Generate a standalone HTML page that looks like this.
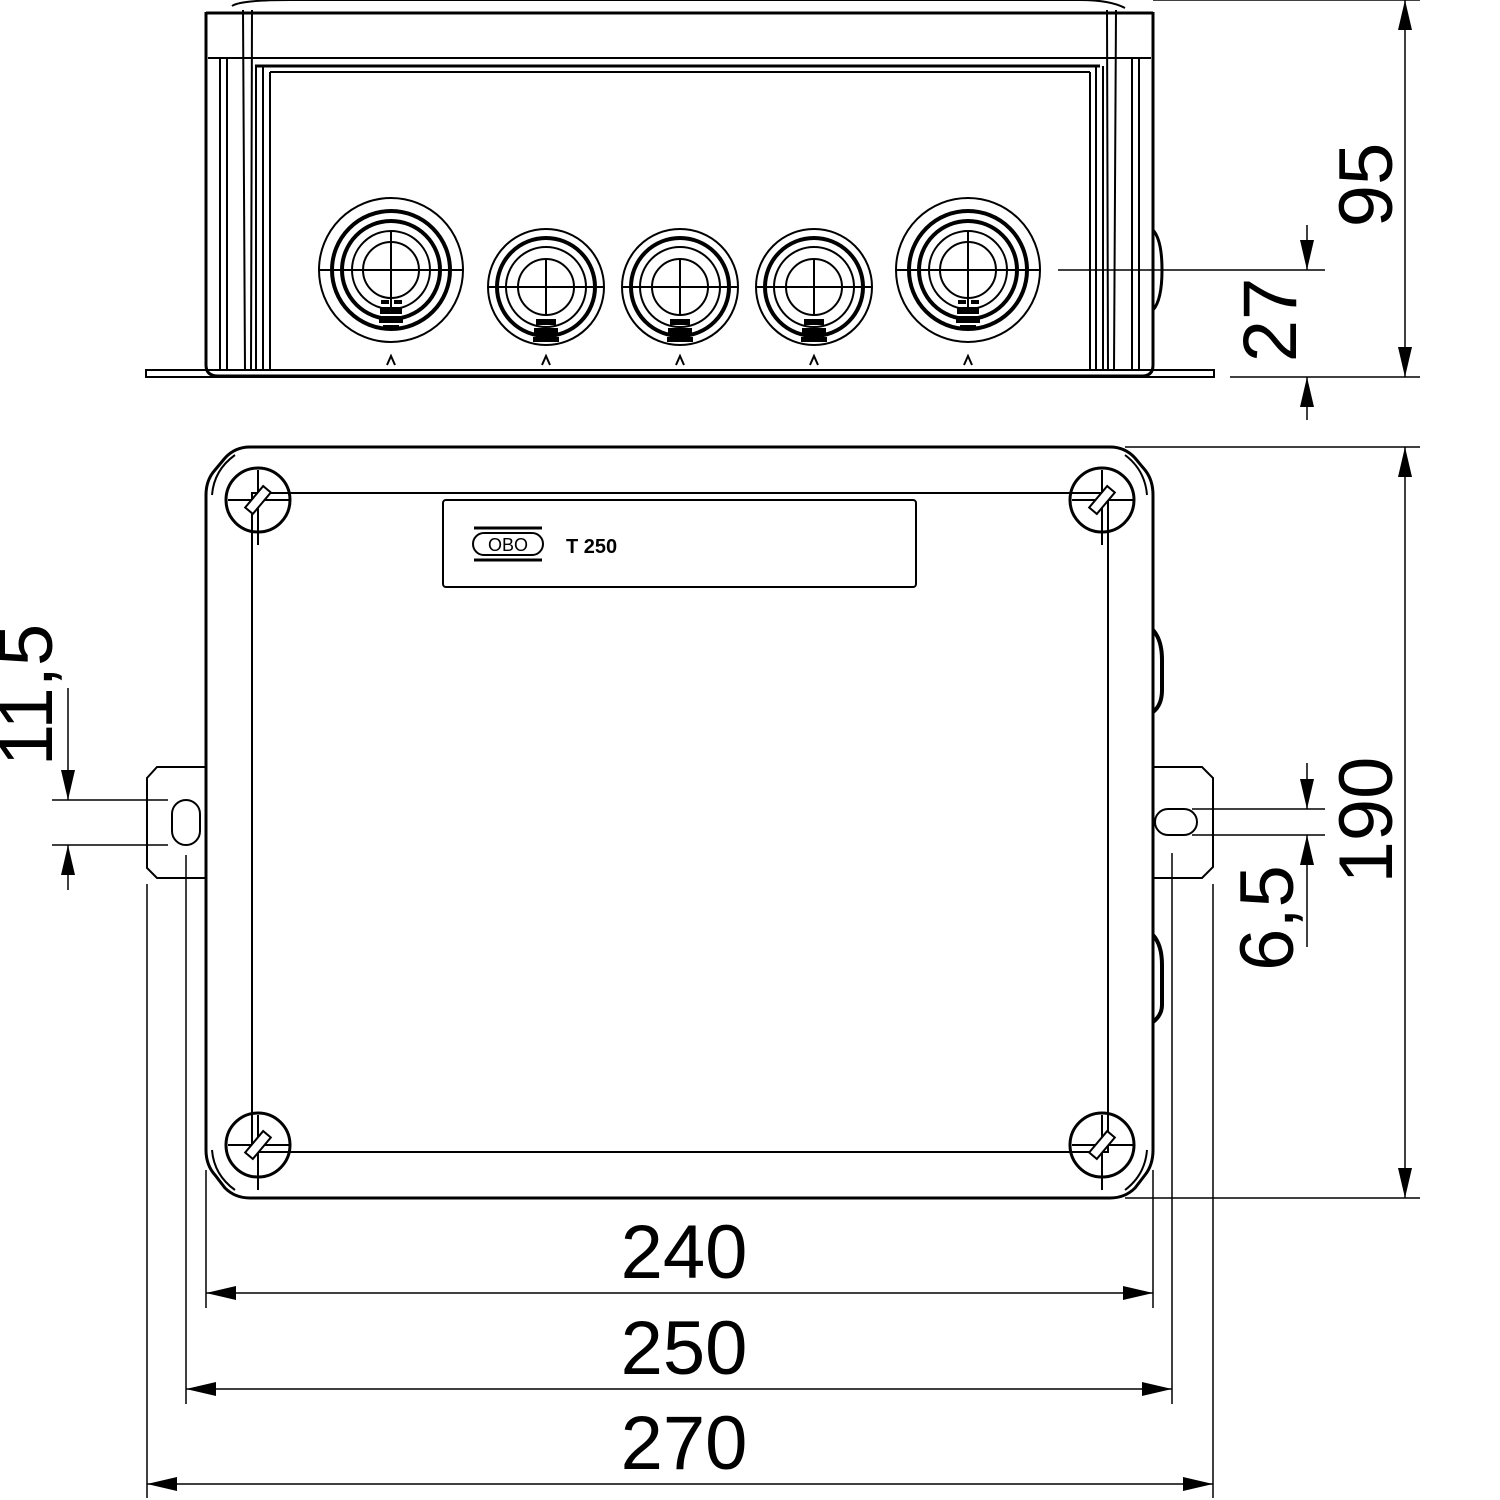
<!DOCTYPE html>
<html><head><meta charset="utf-8"><style>body{margin:0;background:#fff}svg{display:block}</style></head>
<body>
<svg width="1500" height="1500" viewBox="0 0 1500 1500" xmlns="http://www.w3.org/2000/svg" font-family="Liberation Sans, sans-serif">
<defs>
<marker id="a" viewBox="0 0 30 14" refX="30" refY="7" markerWidth="30" markerHeight="14" markerUnits="userSpaceOnUse" orient="auto-start-reverse"><path d="M0,0 L30,7 L0,14z" fill="#000"/></marker>
</defs>
<g fill="none" stroke="#000" stroke-width="2">
<!-- FRONT VIEW -->
<path d="M206,12 L206,365 Q206,376 218,376 L1142,376 Q1153,376 1153,365 L1153,12" stroke-width="3"/>
<line x1="206" y1="13" x2="1153" y2="13" stroke-width="3"/>
<line x1="208" y1="58" x2="1151" y2="58" stroke-width="2"/>
<path d="M232,6 Q240,0 290,0 L1080,0 Q1110,0 1125,8"/>
<line x1="255" y1="66" x2="1100" y2="66" stroke-width="3"/>
<line x1="270" y1="72" x2="1090" y2="72"/>
<line x1="220" y1="58" x2="220" y2="370"/>
<line x1="227" y1="58" x2="227" y2="370"/>
<line x1="243" y1="10" x2="245" y2="370"/>
<line x1="252" y1="10" x2="251" y2="370"/>
<line x1="256" y1="66" x2="256" y2="370"/>
<line x1="263" y1="66" x2="263" y2="370"/>
<line x1="270" y1="72" x2="270" y2="370"/>
<line x1="1139" y1="58" x2="1139" y2="370"/>
<line x1="1132" y1="58" x2="1132" y2="370"/>
<line x1="1116" y1="10" x2="1114" y2="370"/>
<line x1="1107" y1="10" x2="1108" y2="370"/>
<line x1="1103" y1="66" x2="1103" y2="370"/>
<line x1="1096" y1="66" x2="1096" y2="370"/>
<line x1="1090" y1="72" x2="1090" y2="370"/>
<rect x="146" y="370" width="1068" height="7"/>
<path d="M1153,230 Q1162,240 1162,270 Q1162,300 1153,310" stroke-width="3"/>
<!-- glands big -->
<g id="gb">
<circle cx="391" cy="270" r="72"/>
<circle cx="391" cy="270" r="59" stroke-width="4"/>
<circle cx="391" cy="270" r="49" stroke-width="4"/>
<circle cx="391" cy="270" r="39"/>
<circle cx="391" cy="270" r="28"/>
<line x1="319" y1="270" x2="463" y2="270"/>
<line x1="391" y1="232" x2="391" y2="308"/>
<g stroke="none" fill="#000"><rect x="381" y="300" width="8" height="4"/><rect x="394" y="300" width="8" height="4"/><rect x="380" y="307" width="22" height="7"/><rect x="379" y="316" width="24" height="7"/><rect x="383" y="325" width="16" height="5"/></g>
</g>
<use href="#gb" x="577"/>
<g id="gs">
<circle cx="546" cy="287" r="58"/>
<circle cx="546" cy="287" r="49" stroke-width="4"/>
<circle cx="546" cy="287" r="40"/>
<circle cx="546" cy="287" r="28"/>
<line x1="488" y1="287" x2="604" y2="287"/>
<line x1="546" y1="259" x2="546" y2="315"/>
<g stroke="none" fill="#000"><rect x="536" y="319" width="20" height="6"/><rect x="534" y="328" width="24" height="7"/><rect x="533" y="337" width="26" height="5"/></g>
<path d="M542,365 L546,356 L550,365"/>
</g>
<use href="#gs" x="134"/>
<use href="#gs" x="268"/>
<path d="M387,365 L391,356 L395,365"/>
<path d="M964,365 L968,356 L972,365"/>
<!-- TOP VIEW -->
<path d="M250,447 L1110,447 Q1125,447 1135,458 L1145,470 Q1153,480 1153,495 L1153,1150 Q1153,1165 1145,1175 L1135,1188 Q1125,1198 1110,1198 L250,1198 Q235,1198 225,1188 L215,1175 Q206,1165 206,1150 L206,495 Q206,480 215,470 L225,458 Q235,447 250,447z" stroke-width="3"/>
<path d="M212,495 Q214,470 235,455 M1147,495 Q1145,470 1125,455 M212,1150 Q214,1175 235,1190 M1147,1150 Q1145,1175 1125,1190"/>
<rect x="252" y="493" width="856" height="659"/>
<rect x="443" y="500" width="473" height="87" rx="3"/>
<rect x="473" y="533" width="70" height="22" rx="11" stroke-width="2"/>
<line x1="474" y1="528" x2="542" y2="528" stroke-width="3"/>
<line x1="474" y1="560" x2="542" y2="560" stroke-width="3"/>
<g id="sc">
<circle cx="258" cy="500" r="32" stroke-width="3"/>
<line x1="258" y1="470" x2="258" y2="545"/>
<line x1="228" y1="500" x2="290" y2="500"/>
<rect x="244" y="495" width="28" height="10" fill="#fff" transform="rotate(-50 258 500)"/>
</g>
<use href="#sc" x="844"/>
<use href="#sc" y="645"/>
<use href="#sc" x="844" y="645"/>
<path d="M1153,630 Q1162,640 1162,660 L1162,690 Q1162,705 1153,712" stroke-width="4"/>
<path d="M1153,935 Q1162,945 1162,965 L1162,1005 Q1162,1015 1153,1022" stroke-width="4"/>
<!-- tabs -->
<path d="M205,767 L157,767 L147,778 L147,868 L157,878 L205,878"/>
<rect x="172" y="800" width="28" height="45" rx="14"/>
<path d="M1154,767 L1202,767 L1213,778 L1213,867 L1202,878 L1154,878"/>
<rect x="1155" y="809" width="42" height="26" rx="13"/>
</g>
<!-- dimensions -->
<g stroke="#000" stroke-width="1.5" fill="none">
<line x1="1153" y1="0" x2="1420" y2="0"/>
<line x1="1230" y1="377" x2="1420" y2="377"/>
<line x1="1405" y1="0" x2="1405" y2="377" marker-start="url(#a)" marker-end="url(#a)"/>
<line x1="1058" y1="270" x2="1325" y2="270"/>
<line x1="1307" y1="225" x2="1307" y2="270" marker-end="url(#a)"/>
<line x1="1307" y1="420" x2="1307" y2="377" marker-end="url(#a)"/>
<line x1="1125" y1="447" x2="1420" y2="447"/>
<line x1="1125" y1="1198" x2="1420" y2="1198"/>
<line x1="1405" y1="447" x2="1405" y2="1198" marker-start="url(#a)" marker-end="url(#a)"/>
<line x1="1192" y1="809" x2="1325" y2="809"/>
<line x1="1192" y1="835" x2="1325" y2="835"/>
<line x1="1307" y1="763" x2="1307" y2="809" marker-end="url(#a)"/>
<line x1="1307" y1="947" x2="1307" y2="835" marker-end="url(#a)"/>
<line x1="52" y1="800" x2="168" y2="800"/>
<line x1="52" y1="845" x2="168" y2="845"/>
<line x1="68" y1="688" x2="68" y2="800" marker-end="url(#a)"/>
<line x1="68" y1="890" x2="68" y2="845" marker-end="url(#a)"/>
<line x1="206" y1="1170" x2="206" y2="1308"/>
<line x1="1153" y1="1170" x2="1153" y2="1308"/>
<line x1="186" y1="855" x2="186" y2="1404"/>
<line x1="1172" y1="853" x2="1172" y2="1404"/>
<line x1="147" y1="884" x2="147" y2="1498"/>
<line x1="1213" y1="884" x2="1213" y2="1498"/>
<line x1="206" y1="1293" x2="1153" y2="1293" marker-start="url(#a)" marker-end="url(#a)"/>
<line x1="186" y1="1389" x2="1172" y2="1389" marker-start="url(#a)" marker-end="url(#a)"/>
<line x1="147" y1="1484" x2="1213" y2="1484" marker-start="url(#a)" marker-end="url(#a)"/>
</g>
<g font-size="76" fill="#000" text-anchor="middle">
<text x="684" y="1278">240</text>
<text x="684" y="1374">250</text>
<text x="684" y="1469">270</text>
<text transform="translate(1392,185) rotate(-90)">95</text>
<text transform="translate(1296,320) rotate(-90)">27</text>
<text transform="translate(1392,820) rotate(-90)">190</text>
<text transform="translate(1293,918) rotate(-90)">6,5</text>
<text transform="translate(52,695) rotate(-90)">11,5</text>
</g>
<text x="566" y="553" font-size="20" font-weight="bold">T 250</text>
<text x="508" y="551" font-size="18" text-anchor="middle">OBO</text>
</svg>
</body></html>
